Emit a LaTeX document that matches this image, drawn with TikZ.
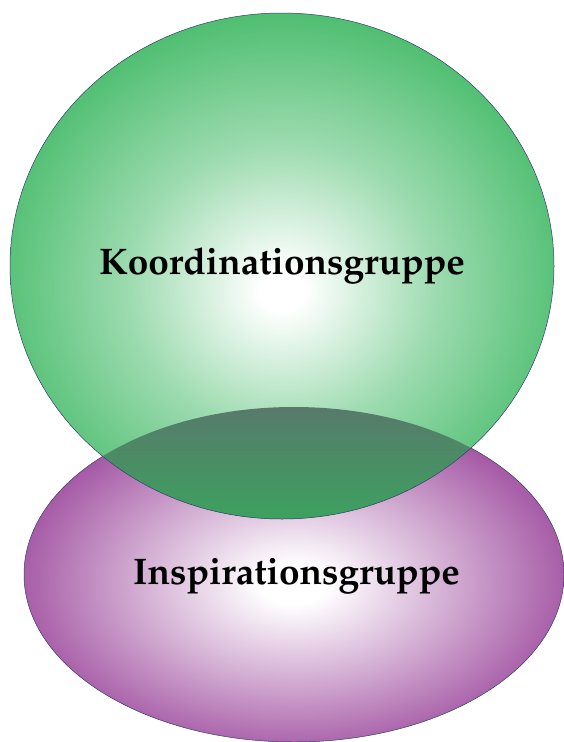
\documentclass[tikz,border=0pt]{standalone}
\usepackage[T1]{fontenc}
\usepackage{mathpazo}
\usepackage{tikz}
\usetikzlibrary{calc}

\definecolor{kgreen}{RGB}{78,190,112}
\definecolor{ipurple}{RGB}{160,80,160}
\definecolor{rimblue}{RGB}{52,62,110}
\definecolor{overlaptop}{RGB}{88,121,107}
\definecolor{overlapbot}{RGB}{60,162,95}

\pgfdeclareradialshading{greenbulb}{\pgfpoint{0bp}{-2.5bp}}{color(0bp)=(white); color(2bp)=(white); color(14bp)=(kgreen!55!white); color(27bp)=(kgreen); color(100bp)=(kgreen)}
\pgfdeclareradialshading{purplebulb}{\pgfpoint{0bp}{-1.5bp}}{color(0bp)=(white); color(3bp)=(white); color(14bp)=(ipurple!45!white); color(27bp)=(ipurple); color(100bp)=(ipurple)}

\tikzset{
  rim/.style={draw=rimblue, line width=0.5pt},
  grouplabel/.style={inner sep=0pt, anchor=base, font=\fontsize{37}{44}\selectfont\bfseries}
}

\begin{document}
\begin{tikzpicture}[x=1pt,y=1pt,yscale=-1,xscale=1]
\useasboundingbox (0,0) rectangle (564,742);

% Inspiration ellipse
\shade[shading=purplebulb] (294,574.5) ellipse [x radius=270, y radius=167.5];
\draw[rim] (294,574.5) ellipse [x radius=270, y radius=167.5];

% Coordination ellipse
\shade[shading=greenbulb] (282,266) ellipse [x radius=272, y radius=253];

% Overlap
\begin{scope}
\clip (294,574.5) ellipse [x radius=270, y radius=167.5];
\clip (282,266) ellipse [x radius=272, y radius=253];
\shade[top color=overlaptop, bottom color=overlapbot] (10,406) rectangle (564,520);
\end{scope}
\draw[rim] (282,266) ellipse [x radius=272, y radius=253];

% Text Node
\node[grouplabel] (koord) at (282,274) {Koordinationsgruppe};
% Text Node
\node[grouplabel] (inspir) at (296.5,584) {Inspirationsgruppe};

\end{tikzpicture}
\end{document}
